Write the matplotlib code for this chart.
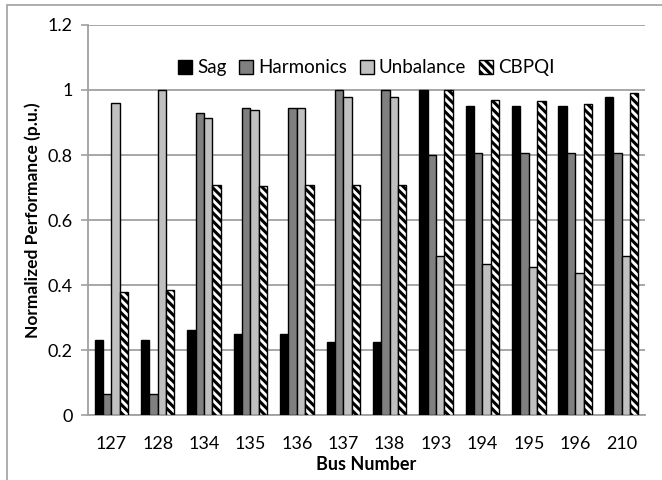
import matplotlib
matplotlib.use("Agg")
import matplotlib.pyplot as plt
import numpy as np
from matplotlib.patches import Rectangle

plt.rcParams['font.family'] = ['Lato', 'DejaVu Sans']
plt.rcParams['hatch.linewidth'] = 2.2

buses = ["127", "128", "134", "135", "136", "137", "138", "193", "194", "195", "196", "210"]
sag = [0.23, 0.23, 0.262, 0.25, 0.25, 0.225, 0.225, 1.0, 0.952, 0.952, 0.952, 0.977]
harmonics = [0.065, 0.065, 0.93, 0.945, 0.945, 1.0, 1.0, 0.80, 0.805, 0.805, 0.805, 0.805]
unbalance = [0.96, 1.0, 0.915, 0.937, 0.945, 0.978, 0.978, 0.49, 0.466, 0.455, 0.437, 0.49]
cbpqi = [0.38, 0.385, 0.708, 0.705, 0.707, 0.707, 0.707, 1.0, 0.97, 0.965, 0.957, 0.992]
series_names = ["Sag", "Harmonics", "Unbalance", "CBPQI"]
yticks = [0, 0.2, 0.4, 0.6, 0.8, 1.0, 1.2]
ytick_labels = ["0", "0.2", "0.4", "0.6", "0.8", "1", "1.2"]

fig = plt.figure(figsize=(6.62, 4.8), dpi=100)
ax = fig.add_axes([0.133, 0.135, 0.841, 0.813])

# figure border
fig.patches.append(Rectangle((7/662, -0.1), 1.2, 1 - 5/480 + 0.1, transform=fig.transFigure,
                             fill=False, edgecolor='#a0a0a0', linewidth=1.2, zorder=0))

x = np.arange(len(buses))
w = 0.18
styles = [dict(color='black'), dict(color='#808080'), dict(color='#c0c0c0'),
          dict(color='white', hatch='\\\\\\\\')]
data = [sag, harmonics, unbalance, cbpqi]
for i, (vals, st, name) in enumerate(zip(data, styles, series_names)):
    ax.bar(x + (i - 1.5) * w, vals, width=w, edgecolor='black', linewidth=1.0,
           label=name, zorder=3, **st)

ax.set_xlim(-0.5, len(buses) - 0.5)
ax.set_ylim(0, 1.2)
ax.set_yticks(yticks)
ax.set_yticklabels(ytick_labels, fontsize=13)
ax.set_xticks(x)
ax.set_xticklabels(buses, fontsize=13)
ax.tick_params(axis='x', length=0, pad=15)
ax.tick_params(axis='y', length=5, color='#a0a0a0', width=1.2, pad=6)
ax.grid(axis='y', color='#a0a0a0', linewidth=1.3, zorder=0)
for s in ['top', 'right']:
    ax.spines[s].set_visible(False)
for s in ['left', 'bottom']:
    ax.spines[s].set_color('#a0a0a0')
    ax.spines[s].set_linewidth(1.3)

ax.set_xlabel("Bus Number", fontsize=13, fontweight='bold', labelpad=3)
ax.set_ylabel("Normalized Performance (p.u.)", fontsize=12.5, fontweight='bold', labelpad=5)

leg = ax.legend(loc='upper center', bbox_to_anchor=(0.5, 0.955), ncol=4, frameon=False,
                fontsize=13.5, handlelength=0.75, handleheight=0.75, handletextpad=0.25,
                columnspacing=0.7)

fig.savefig("out.png", dpi=100)
